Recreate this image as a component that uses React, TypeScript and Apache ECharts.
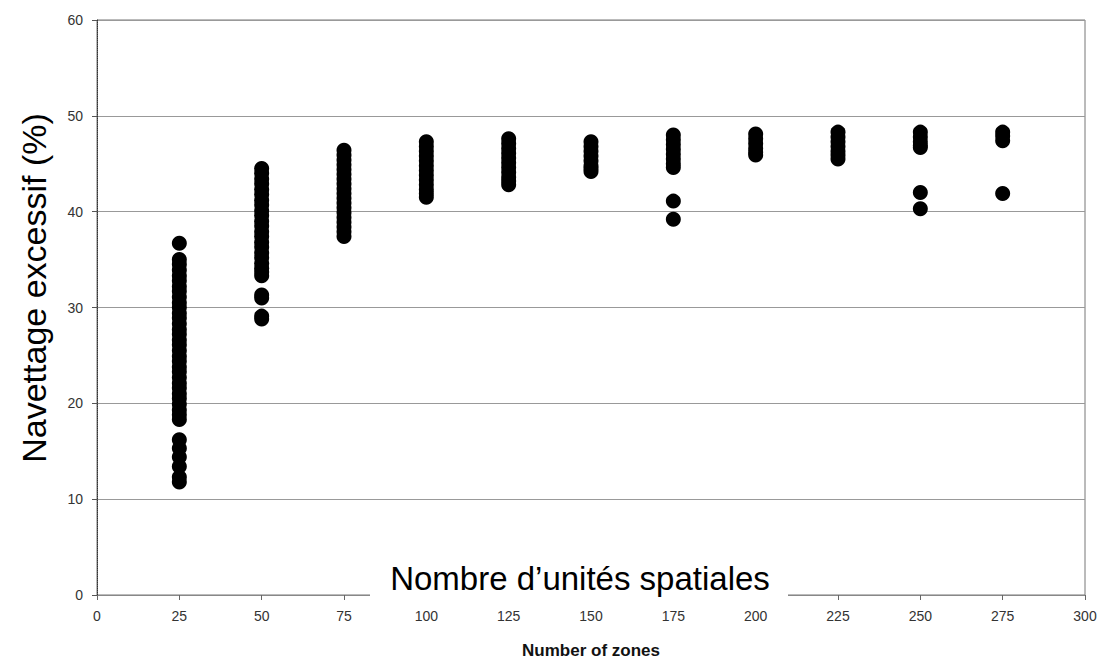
import React, { useEffect, useRef } from "react";
import * as echarts from "echarts";

const xTicks = [0, 25, 50, 75, 100, 125, 150, 175, 200, 225, 250, 275, 300];
const yTicks = [0, 10, 20, 30, 40, 50, 60];

const zones = [25, 50, 75, 100, 125, 150, 175, 200, 225, 250, 275];

const y25 = [36.7, 35.0, 34.5, 33.9, 33.3, 32.8, 32.2, 31.7, 31.1, 30.5, 30.0, 29.4, 28.9, 28.3, 27.7, 27.2, 26.6, 26.1, 25.5, 24.9, 24.4, 23.8, 23.3, 22.7, 22.1, 21.6, 21.0, 20.5, 19.9, 19.3, 18.8, 18.3, 16.2, 15.3, 14.4, 13.4, 12.3, 11.8];
const y50 = [44.5, 44.0, 43.4, 42.9, 42.3, 41.8, 41.2, 40.7, 40.1, 39.6, 39.0, 38.5, 37.9, 37.4, 36.8, 36.3, 35.7, 35.2, 34.6, 34.1, 33.7, 33.3, 31.3, 31.0, 29.1, 28.8];
const y75 = [46.4, 45.9, 45.4, 44.9, 44.4, 43.9, 43.4, 42.9, 42.4, 41.9, 41.4, 40.9, 40.4, 39.9, 39.4, 38.9, 38.4, 37.9, 37.4];
const y100 = [47.3, 46.8, 46.3, 45.8, 45.3, 44.8, 44.3, 43.8, 43.3, 42.8, 42.3, 41.9, 41.5];
const y125 = [47.6, 47.1, 46.6, 46.1, 45.6, 45.1, 44.6, 44.1, 43.6, 43.2, 42.8];
const y150 = [47.3, 46.8, 46.3, 45.8, 45.3, 44.8, 44.5, 44.2];
const y175 = [48.0, 47.5, 47.0, 46.5, 46.0, 45.5, 45.0, 44.6, 41.1, 39.2];
const y200 = [48.1, 47.6, 47.1, 46.6, 46.2, 45.9];
const y225 = [48.3, 47.8, 47.3, 46.8, 46.3, 45.9, 45.5];
const y250 = [48.3, 47.8, 47.3, 46.9, 46.7, 42.0, 40.3];
const y275 = [48.3, 47.9, 47.4, 41.9];

const columns = [y25, y50, y75, y100, y125, y150, y175, y200, y225, y250, y275];

const yName = "Navettage excessif (%)";
const xName = "Number of zones";
const overlayText = "Nombre d\u2019unités spatiales";

export default function App() {
  const ref = useRef<HTMLDivElement>(null);
  useEffect(() => {
    if (!ref.current) return;
    const chart = echarts.init(ref.current, null, { renderer: "svg" });
    const data: number[][] = [];
    zones.forEach((z, i) => columns[i].forEach((v) => data.push([z, v])));
    const font = "'Liberation Sans', Arial, sans-serif";
    chart.setOption({
      animation: false,
      backgroundColor: "#ffffff",
      grid: {
        left: 97,
        right: 21,
        top: 20,
        bottom: 67,
        show: true,
        borderColor: "#777",
        borderWidth: 1,
      },
      xAxis: {
        type: "value",
        min: xTicks[0],
        max: xTicks[xTicks.length - 1],
        interval: 25,
        axisLine: { show: true, lineStyle: { color: "#888", width: 1 } },
        axisTick: { show: true, length: 5, lineStyle: { color: "#666" } },
        axisLabel: { color: "#333", fontSize: 14, fontFamily: font, margin: 14 },
        splitLine: { show: false },
      },
      yAxis: {
        type: "value",
        min: yTicks[0],
        max: yTicks[yTicks.length - 1],
        interval: 10,
        axisLine: { show: true, lineStyle: { color: "#333", width: 1, type: "dotted" } },
        axisTick: { show: true, length: 5, lineStyle: { color: "#555" } },
        axisLabel: { color: "#333", fontSize: 14, fontFamily: font, margin: 14 },
        splitLine: { show: true, lineStyle: { color: "#999", width: 1 } },
      },
      series: [
        {
          type: "scatter",
          symbol: "circle",
          symbolSize: 15,
          itemStyle: { color: "#000", opacity: 1 },
          data,
        },
      ],
      graphic: [
        {
          type: "rect",
          z: 100,
          shape: { x: 370, y: 545, width: 418, height: 64 },
          style: { fill: "#ffffff" },
        },
        {
          type: "text",
          z: 101,
          x: 580,
          y: 578,
          style: {
            text: overlayText,
            fill: "#000",
            font: `33px ${font}`,
            textAlign: "center",
            textVerticalAlign: "middle",
          },
        },
        {
          type: "text",
          z: 101,
          x: 34,
          y: 288,
          rotation: Math.PI / 2,
          style: {
            text: yName,
            fill: "#000",
            font: `34px ${font}`,
            textAlign: "center",
            textVerticalAlign: "middle",
          },
        },
        {
          type: "text",
          z: 101,
          x: 591,
          y: 650,
          style: {
            text: xName,
            fill: "#111",
            font: `bold 17px ${font}`,
            textAlign: "center",
            textVerticalAlign: "middle",
          },
        },
      ],
    });
    return () => chart.dispose();
  }, []);
  return <div ref={ref} style={{ width: 1106, height: 662, position: "absolute", left: 0, top: 0 }} />;
}
